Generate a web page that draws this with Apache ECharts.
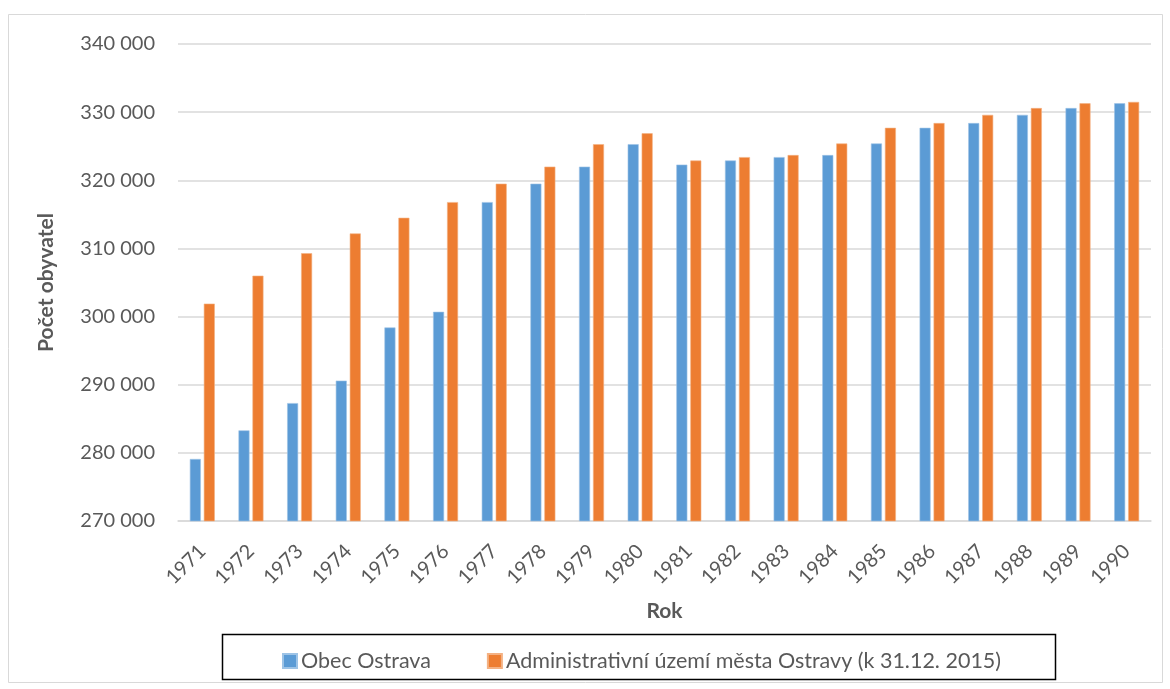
<!DOCTYPE html>
<html>
<head>
<meta charset="utf-8">
<script src="https://cdn.jsdelivr.net/npm/echarts@6/dist/echarts.min.js"></script>
<style>
html,body{margin:0;padding:0;background:#fff;}
#c{width:1170px;height:689px;}
</style>
</head>
<body>
<div id="c"></div>
<script>
const years = ['1971','1972','1973','1974','1975','1976','1977','1978','1979','1980','1981','1982','1983','1984','1985','1986','1987','1988','1989','1990'];
const obecOstrava = [279100,283300,287300,290600,298400,300700,316800,319500,322000,325300,322300,322900,323400,323700,325400,327700,328400,329600,330600,331300];
const adminUzemi = [301900,306000,309300,312200,314500,316800,319500,322000,325300,326900,322900,323400,323700,325400,327700,328400,329600,330600,331300,331500];
const seriesNames = ['Obec Ostrava','Administrativní území města Ostravy (k 31.12. 2015)'];
const yTitle = 'Počet obyvatel';
const xTitle = 'Rok';

const chart = echarts.init(document.getElementById('c'), null, {renderer:'canvas'});
const font = 'Lato, "Open Sans", sans-serif';
function fmt(v){ const s = String(v); return s.slice(0, s.length-3) + ' ' + s.slice(-3); }

chart.setOption({
  animation:false,
  backgroundColor:'#fff',
  graphic:[
    {type:'rect', shape:{x:8.5,y:14.5,width:1154,height:668}, style:{fill:'none', stroke:'#D9D9D9', lineWidth:1}},
    {type:'rect', shape:{x:222.5,y:634.5,width:833,height:45}, style:{fill:'none', stroke:'#000', lineWidth:1.5}}
  ],
  grid:{left:178, top:44, width:973, height:477, containLabel:false},
  legend:{
    data:seriesNames,
    left:277, top:645,
    itemWidth:14, itemHeight:14, itemGap:56,
    icon:'rect',
    textStyle:{color:'#595959', fontSize:21.5, fontFamily:font, padding:[0,0,0,-1]}
  },
  xAxis:{
    type:'category', data:years,
    name:xTitle, nameLocation:'middle', nameGap:80,
    nameTextStyle:{color:'#595959', fontSize:21, fontWeight:'bold', fontFamily:font},
    axisLine:{lineStyle:{color:'#D9D9D9', width:1.5}},
    axisTick:{show:false},
    axisLabel:{rotate:45, margin:27, color:'#595959', fontSize:20, fontFamily:font, interval:0}
  },
  yAxis:{
    type:'value', min:270000, max:340000, interval:10000,
    name:yTitle, nameLocation:'middle', nameGap:121, nameRotate:90,
    nameTextStyle:{color:'#595959', fontSize:21, fontWeight:'bold', fontFamily:font},
    axisLine:{show:false}, axisTick:{show:false},
    splitLine:{lineStyle:{color:'#D9D9D9', width:1.5}},
    axisLabel:{margin:23, color:'#595959', fontSize:20, fontFamily:font, formatter:fmt}
  },
  series:[
    {name:seriesNames[0], type:'bar', data:obecOstrava, barWidth:11, barGap:'27%',
     itemStyle:{color:'#5B9BD5', borderColor:'#9DC3E6', borderWidth:0.6}},
    {name:seriesNames[1], type:'bar', data:adminUzemi, barWidth:11,
     itemStyle:{color:'#ED7D31', borderColor:'#F4B183', borderWidth:0.6}}
  ]
});
</script>
</body>
</html>
